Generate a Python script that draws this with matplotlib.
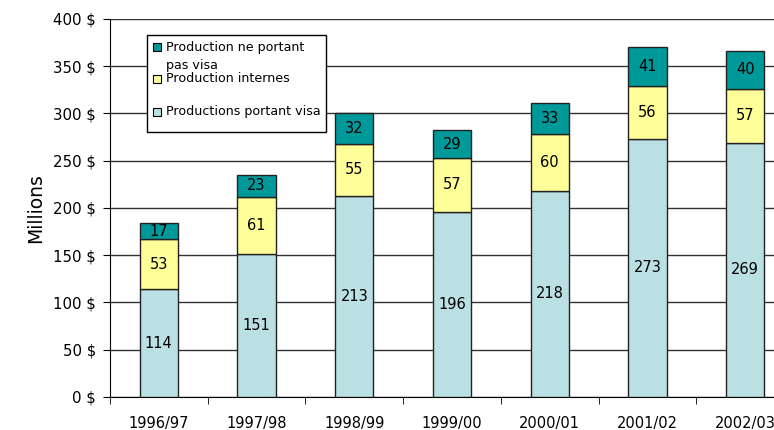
import numpy as np
import matplotlib.pyplot as plt
from matplotlib.patches import Rectangle

plt.rcParams['font.family'] = ['DejaVu Sans']

years = ['1996/97', '1997/98', '1998/99', '1999/00', '2000/01', '2001/02', '2002/03']
visa = [114, 151, 213, 196, 218, 273, 269]
internes = [53, 61, 55, 57, 60, 56, 57]
sans_visa = [17, 23, 32, 29, 33, 41, 40]
legend_labels = ['Production ne portant\npas visa', 'Production internes', 'Productions portant visa']

c_visa = '#BBE0E3'
c_int = '#FFFF99'
c_sans = '#009999'

W, H = 774, 430
fig = plt.figure(figsize=(7.74, 4.3), dpi=100)
ax = fig.add_axes([0.142, 0.077, 0.884, 0.879])

x = np.arange(len(years))
w = 0.39
v = np.array(visa)
i = np.array(internes)
s = np.array(sans_visa)
ax.bar(x, v, w, color=c_visa, edgecolor='#222222', linewidth=1, zorder=3)
ax.bar(x, i, w, bottom=v, color=c_int, edgecolor='#222222', linewidth=1, zorder=3)
ax.bar(x, s, w, bottom=v + i, color=c_sans, edgecolor='#222222', linewidth=1, zorder=3)

for k in range(len(years)):
    ax.text(x[k], v[k] / 2, str(visa[k]), ha='center', va='center', fontsize=10.5, zorder=4)
    ax.text(x[k], v[k] + i[k] / 2, str(internes[k]), ha='center', va='center', fontsize=10.5, zorder=4)
    ax.text(x[k], v[k] + i[k] + s[k] / 2, str(sans_visa[k]), ha='center', va='center', fontsize=10.5, zorder=4)

ax.set_xlim(-0.5, 6.5)
ax.set_ylim(0, 400)
ax.set_yticks(range(0, 401, 50))
ax.set_yticklabels([f'{t} $' for t in range(0, 401, 50)], fontsize=10.8)
ax.yaxis.grid(True, color='#333333', linewidth=1, zorder=0)
ax.set_xticks(x)
ax.set_xticklabels(years, fontsize=10.5)
ax.set_xticks(np.arange(-0.5, 7, 1), minor=True)
ax.tick_params(axis='x', which='major', length=0, pad=14)
ax.tick_params(axis='x', which='minor', length=5, direction='out', color='black')
ax.tick_params(axis='y', length=5, direction='out', pad=5)
for sp in ['top', 'right']:
    ax.spines[sp].set_visible(False)
ax.set_ylabel('Millions', fontsize=13.5, labelpad=6)

# legend drawn by hand (wrapped first label overlaps like the original)
def px(xp, yp):
    return xp / W, 1 - yp / H

x0, y0 = px(147, 132)
x1, y1 = px(326, 35)
fig.patches.append(Rectangle((x0, y0), x1 - x0, y1 - y0, transform=fig.transFigure,
                             facecolor='white', edgecolor='black', linewidth=1, zorder=5))
colors = [c_sans, c_int, c_visa]
marker_y = [46.5, 78.5, 111.5]
text_y = [56, 79, 111]
for col, my, ty, lab in zip(colors, marker_y, text_y, legend_labels):
    mx0, my0 = px(153, my + 4)
    fig.patches.append(Rectangle((mx0, my0), 7.5 / W, 7.5 / H, transform=fig.transFigure,
                                 facecolor=col, edgecolor='black', linewidth=0.8, zorder=6))
    tx, tyf = px(166, ty)
    fig.text(tx, tyf, lab, ha='left', va='center', fontsize=9.1, linespacing=1.5, zorder=7)

fig.savefig('out.png', dpi=100)
